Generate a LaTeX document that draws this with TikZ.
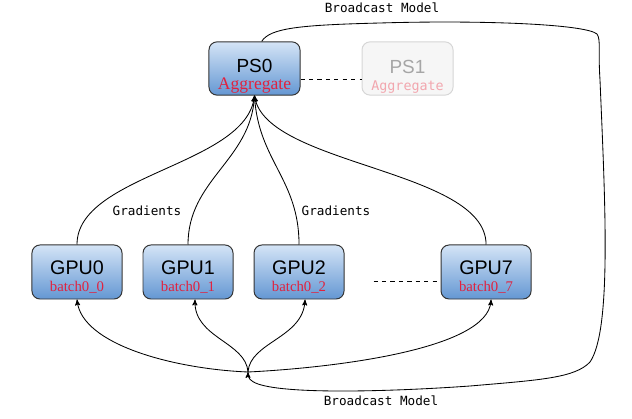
\documentclass[tikz,border=0pt]{standalone}
\usepackage{fontspec}
\setmainfont{Liberation Serif}
\newfontfamily\arialfont{Liberation Sans}
\setmonofont{DejaVu Sans Mono}
\usetikzlibrary{arrows,positioning}
\definecolor{boxtop}{HTML}{D4E4F6}
\definecolor{boxbottom}{HTML}{6497D3}
\definecolor{aggred}{HTML}{E0223F}
\definecolor{ghostfill}{HTML}{F6F6F6}
\definecolor{ghostdraw}{HTML}{D6D6D6}
\definecolor{ghosttext}{HTML}{A6A6A6}
\definecolor{ghostred}{HTML}{F2A6AE}
\newcommand{\pslabel}[2]{\rule{0pt}{21pt}{\arialfont\fontsize{13.5}{12}\selectfont #1}\\{\color{aggred}#2}}
\newcommand{\gpulabel}[2]{\rule{0pt}{17pt}{\arialfont\fontsize{14}{11.5}\selectfont #1}\\{\color{aggred}\fontsize{10.5}{11.5}\selectfont #2}}
\tikzset{ps node/.style={rectangle,rounded corners=0.2cm,draw=black!80,line width=0.7pt,top color=boxtop,bottom color=boxbottom,minimum width=2.275cm,minimum height=1.33cm,inner sep=0pt,align=center,font=\fontsize{12.5}{12}\selectfont},
         gpu node/.style={ps node,minimum width=2.25cm,minimum height=1.35cm,font=\fontsize{10.5}{11.5}\selectfont},
         ghost node/.style={ps node,draw=ghostdraw,top color=ghostfill,bottom color=ghostfill,text=ghosttext},
         edge label/.style = {draw=none,fill=none,font=\ttfamily\fontsize{9}{11}\selectfont}
}
\begin{document}
\begin{tikzpicture}[-,>=stealth',x=0.025cm,y=-0.025cm,line width=0.6pt]
    \useasboundingbox (0,0) rectangle (632,419);

    \node[ps node] (ps0) at (254.5,68.5) {\pslabel{PS0}{Aggregate}};
    \node[ghost node, right=1.525cm of ps0] (ps1) {\rule{0pt}{21pt}{\arialfont\fontsize{13.5}{12}\selectfont PS1}\\{\color{ghostred}\ttfamily\fontsize{9.5}{12}\selectfont Aggregate}};

    \node[gpu node] (gpu0) at (77,272) {\gpulabel{GPU0}{batch0\_0}};
    \node[gpu node, right=0.5cm of gpu0] (gpu1) {\gpulabel{GPU1}{batch0\_1}};
    \node[gpu node, right=0.5cm of gpu1] (gpu2) {\gpulabel{GPU2}{batch0\_2}};
    \node[gpu node, right=2.4cm of gpu2] (gpu7) {\gpulabel{GPU7}{batch0\_7}};

    \coordinate (hub) at (248,372);
    \coordinate (gap) at ([xshift=0.725cm,yshift=-7pt]gpu2.east);

    % dotted-out members
    \draw[dashed] ([yshift=-8pt]ps0.east) -- ([yshift=-8pt]ps1.west);
    \draw[dashed] (gap) -- ([yshift=-7pt]gpu7.west);

    % gradients up to the server
    \draw[->] (gpu0.north) .. controls +(0,-70) and +(-9,70) .. (ps0.south);
    \draw[->] (gpu1.north) .. controls +(0,-65) and +(-4,65) .. (ps0.south);
    \draw[->] (gpu2.north) .. controls +(0,-65) and +(4,65) .. (ps0.south);
    \draw[->] (gpu7.north) .. controls +(0,-75) and +(12,70) .. (ps0.south);

    % model back to the workers
    \draw[->] ([xshift=0.18cm]ps0.north) .. controls (270,28) and (300,25) .. (380,23)
        .. controls (480,20) and (585,24) .. (597,34)
        .. controls (601,40) and (598,50) .. (600,80)
        .. controls (605,200) and (612,330) .. (590,362)
        .. controls (575,378) and (540,380) .. (470,386)
        .. controls (400,391) and (290,395) .. (258,384)
        .. controls (250,381) and (248,378) .. (hub);
    \draw[->] (hub) .. controls (175,369) and (82,345) .. (gpu0.south);
    \draw[->] (hub) .. controls (246,342) and (194,338) .. ([xshift=0.175cm]gpu1.south);
    \draw[->] (hub) .. controls (250,342) and (303,338) .. ([xshift=0.15cm]gpu2.south);
    \draw[->] (hub) .. controls (330,368) and (488,350) .. ([xshift=0.125cm]gpu7.south);

    \node[edge label] (gradl) at (147,211) {Gradients};
    \node[edge label] (gradr) at (336,211) {Gradients};
    \node[edge label] (bctop) at (382,8) {Broadcast Model};
    \node[edge label] (bcbot) at (381,401) {Broadcast Model};

\end{tikzpicture}
\end{document}
